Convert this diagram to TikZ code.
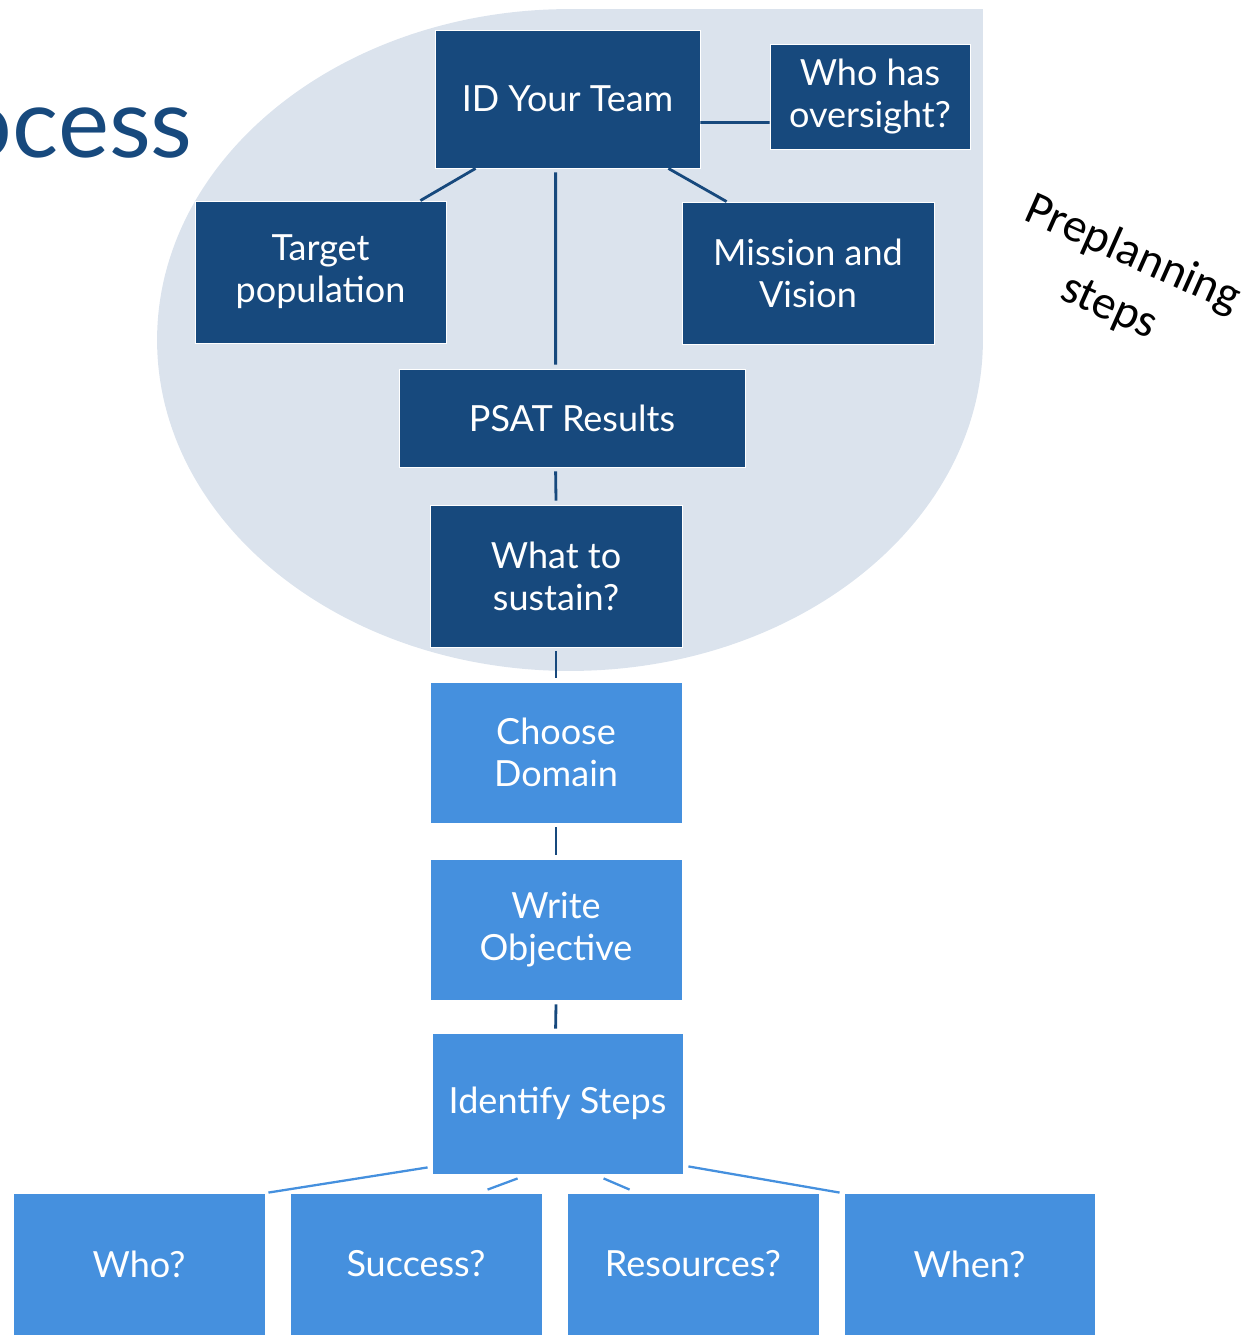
\documentclass[tikz,border=0pt]{standalone}
\usepackage{fontspec}
\setmainfont{Lato}
\newfontfamily\prefont{Carlito}
\usetikzlibrary{calc}
\definecolor{darkbox}{RGB}{23,73,125}
\definecolor{lightbox}{RGB}{69,144,222}
\definecolor{bgshape}{RGB}{219,227,237}
\tikzset{
  dbox/.style={fill=darkbox, draw=white, line width=0.5pt, text=white, align=center, inner sep=0pt, font=\fontsize{20.5}{24}\selectfont},
  lbox/.style={fill=lightbox, draw=white, line width=0.5pt, text=white, align=center, inner sep=0pt, font=\fontsize{20.5}{24}\selectfont},
  dlink/.style={draw=darkbox, line width=1.6pt},
  llink/.style={draw=lightbox, line width=1.3pt}
}
\begin{document}
\begin{tikzpicture}[x=0.02cm,y=-0.02cm]
\useasboundingbox (0,0) rectangle (1245,1335);
% background region
\fill[bgshape] (570,340) ellipse [x radius=8.26cm, y radius=6.62cm];
\fill[bgshape] (570,9) rectangle (983,340);
% title fragment
\node[anchor=base east, text=darkbox, inner sep=0pt, font=\fontsize{55}{60}\selectfont] (title) at (193,157) {ocess};
% side label
\node[rotate=-24, align=center, inner sep=0pt, font=\prefont\fontsize{27}{33}\selectfont] (pre) at (1121,281) {Preplanning\\steps};
% dark boxes
\node[dbox, minimum width=5.3cm, minimum height=2.76cm] (id) at (567.5,99) {ID Your Team};
\node[dbox, minimum width=4.0cm, minimum height=2.1cm] (ovs) at (870,96.5) {Who has\\oversight?};
\node[dbox, minimum width=5.02cm, minimum height=2.84cm] (target) at (320.5,272) {Target\\population};
\node[dbox, minimum width=5.04cm, minimum height=2.84cm] (mission) at (808,273) {Mission and\\Vision};
\node[dbox, minimum width=6.92cm, minimum height=1.96cm] (psat) at (572,418) {PSAT Results};
\node[dbox, minimum width=5.04cm, minimum height=2.84cm] (sustain) at (556,576) {What to\\sustain?};
% light boxes
\node[lbox, minimum width=5.04cm, minimum height=2.82cm] (domain) at (556,752.5) {Choose\\Domain};
\node[lbox, minimum width=5.04cm, minimum height=2.82cm] (objective) at (556,929.5) {Write\\Objective};
\node[lbox, minimum width=5.02cm, minimum height=2.82cm] (ident) at (557.5,1103.5) {Identify Steps};
\node[lbox, minimum width=5.04cm, minimum height=2.84cm] (who) at (139,1264) {Who?};
\node[lbox, minimum width=5.04cm, minimum height=2.84cm] (success) at (416,1264) {Success?};
\node[lbox, minimum width=5.04cm, minimum height=2.84cm] (resources) at (693,1264) {Resources?};
\node[lbox, minimum width=5.02cm, minimum height=2.84cm] (when) at (969.5,1264) {When?};
% dark connectors
\draw[dlink] ($(id.south east)+(0,-46)$) -- ($(ovs.south west)+(0,-27)$);
\draw[dlink] ($(id.south west)+(41,0)$) -- ($(target.north east)+(-26,0)$);
\draw[dlink] ($(id.south east)+(-32,0)$) -- ($(mission.north west)+(45,0)$);
\draw[dlink] ($(id.south west)+(121,4)$) -- ($(psat.north west)+(157,-4)$);
\draw[dlink] ($(psat.south west)+(157,4)$) -- ($(sustain.north)+(0,-4)$);
\draw[dlink] ($(sustain.south)+(0,4)$) -- ($(domain.north)+(0,-4)$);
\draw[dlink] ($(domain.south)+(0,4)$) -- ($(objective.north)+(0,-4)$);
\draw[dlink] ($(objective.south)+(0,4)$) -- ($(ident.north west)+(124,-4)$);
% light connectors
\draw[llink] ($(ident.south west)+(-4,-7)$) -- ($(who.north east)+(3,0)$);
\draw[llink] ($(ident.south west)+(86,4)$) -- ($(success.north west)+(198,-3)$);
\draw[llink] ($(ident.south west)+(172,4)$) -- ($(resources.north west)+(63,-3)$);
\draw[llink] ($(ident.south east)+(5,-8)$) -- ($(when.north west)+(-4,0)$);
\end{tikzpicture}
\end{document}
